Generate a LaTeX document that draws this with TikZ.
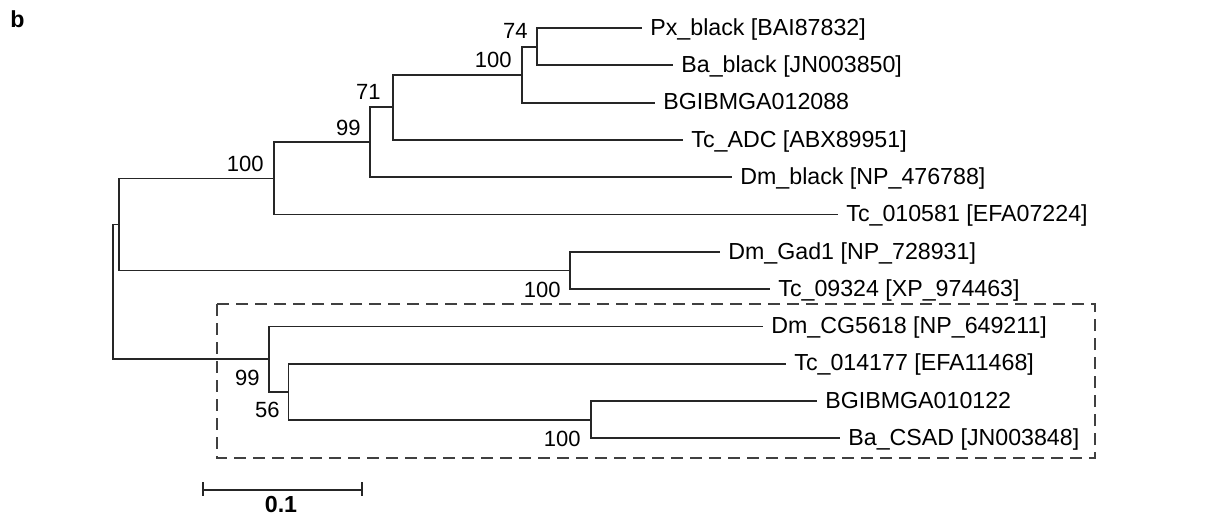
\documentclass[tikz,border=0pt]{standalone}
\usepackage{fontspec}
\setmainfont{Liberation Sans}
\usetikzlibrary{calc}

\tikzset{
  branch/.style={draw=black!85, line width=0.9pt},
  leaf/.style={anchor=west, inner xsep=4pt, inner ysep=0pt, text height=0.72em, text depth=0pt,
    font=\fontsize{11.6}{14}\selectfont},
  boot/.style={anchor=east, inner sep=0pt, font=\fontsize{11}{13}\selectfont},
  clade/.style={draw=black!75, line width=0.9pt, dash pattern=on 6pt off 3.5pt},
}

\begin{document}
\begin{tikzpicture}[x=0.5pt,y=-0.5pt]
\useasboundingbox (0,0) rectangle (1229,521);

\node[anchor=base west, inner sep=0pt, font=\fontsize{11.6}{14}\selectfont\bfseries] (panel) at (10,27) {b};

% inner nodes of the tree
\coordinate (root) at (113,291.7);
\coordinate (n1) at (119,224.4);
\coordinate (a100) at (274,178.4);
\coordinate (a99) at (370,142.2);
\coordinate (a71) at (393,107.3);
\coordinate (a100b) at (522,74.6);
\coordinate (a74) at (537,46.7);
\coordinate (gad) at (570,270.5);
\coordinate (m99) at (269,359);
\coordinate (m56) at (288.5,391.7);
\coordinate (m100) at (591,419.7);

% leaves
\node[leaf] (px) at (642,28) {Px\_black [BAI87832]};
\node[leaf] (ba) at (673,65.3) {Ba\_black [JN003850]};
\node[leaf] (bg1) at (655,102.6) {BGIBMGA012088};
\node[leaf] (tcadc) at (683,139.9) {Tc\_ADC [ABX89951]};
\node[leaf] (dmb) at (732,177.2) {Dm\_black [NP\_476788]};
\node[leaf] (tc1) at (838,214.5) {Tc\_010581 [EFA07224]};
\node[leaf] (dmg) at (720,251.8) {Dm\_Gad1 [NP\_728931]};
\node[leaf] (tc2) at (770,289.1) {Tc\_09324 [XP\_974463]};
\node[leaf] (dmc) at (763,326.4) {Dm\_CG5618 [NP\_649211]};
\node[leaf] (tc3) at (786,363.7) {Tc\_014177 [EFA11468]};
\node[leaf] (bg2) at (817,401) {BGIBMGA010122};
\node[leaf] (bacs) at (840,438.3) {Ba\_CSAD [JN003848]};

% branches
\draw[branch] (root) |- (n1) (root) |- (m99);
\draw[branch] (n1) |- (a100) (n1) |- (gad);
\draw[branch] (a100) |- (a99) (a100) |- (tc1.west);
\draw[branch] (a99) |- (a71) (a99) |- (dmb.west);
\draw[branch] (a71) |- (a100b) (a71) |- (tcadc.west);
\draw[branch] (a100b) |- (a74) (a100b) |- (bg1.west);
\draw[branch] (a74) |- (px.west) (a74) |- (ba.west);
\draw[branch] (gad) |- (dmg.west) (gad) |- (tc2.west);
\draw[branch] (m99) |- (dmc.west) (m99) |- (m56);
\draw[branch] (m56) |- (tc3.west) (m56) |- (m100);
\draw[branch] (m100) |- (bg2.west) (m100) |- (bacs.west);

% bootstrap values
\node[boot] (bs74) at (528,31) {74};
\node[boot] (bs100b) at (512,60) {100};
\node[boot] (bs71) at (381,91.5) {71};
\node[boot] (bs99) at (361,127.5) {99};
\node[boot] (bs100) at (264,163.5) {100};
\node[boot] (bsgad) at (561,289.5) {100};
\node[boot] (bsm99) at (260,377.5) {99};
\node[boot] (bsm56) at (280,410) {56};
\node[boot] (bsm100) at (581,438.5) {100};

% clade box
\draw[clade] (217,304) rectangle (1095,458);

% scale bar
\coordinate (sbl) at (203,490);
\coordinate (sbr) at (362,490);
\draw[branch] (sbl) -- (sbr);
\draw[branch] ($(sbl)+(0,-8)$) -- ($(sbl)+(0,6)$);
\draw[branch] ($(sbr)+(0,-8)$) -- ($(sbr)+(0,6)$);
\node[anchor=north, inner sep=0pt, text height=0.72em, text depth=0pt,
  font=\fontsize{11.6}{14}\selectfont\bfseries] (sblabel) at (281,498) {0.1};
\end{tikzpicture}
\end{document}
